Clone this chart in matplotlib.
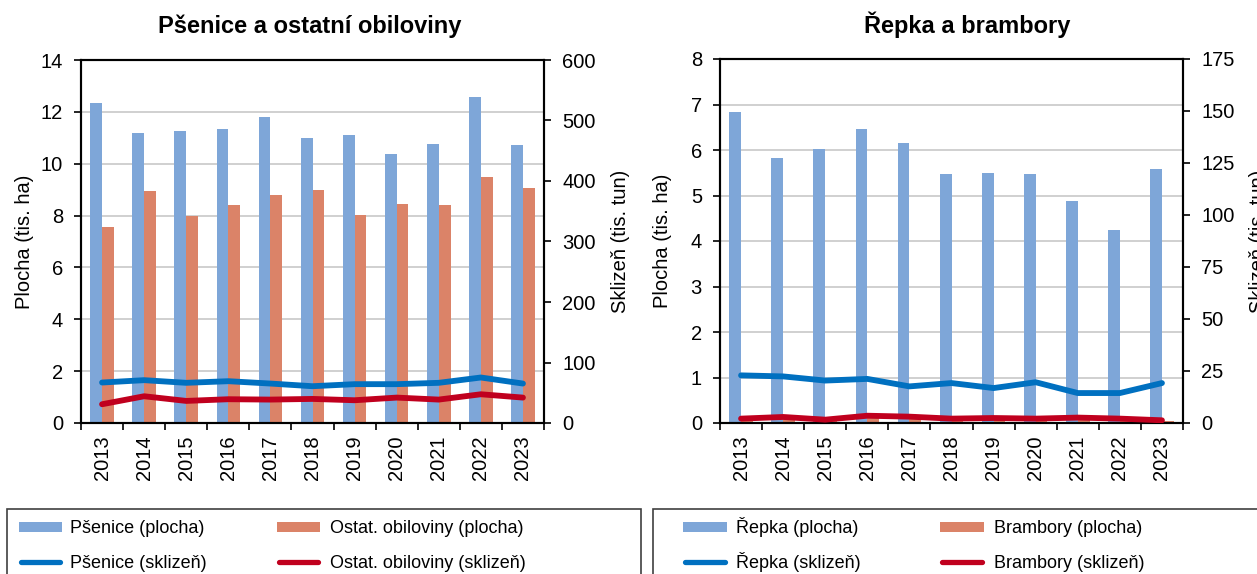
import matplotlib
matplotlib.use("Agg")
import matplotlib.pyplot as plt
import numpy as np
from matplotlib.patches import Rectangle
from matplotlib.lines import Line2D

plt.rcParams['font.family'] = ['Liberation Sans', 'DejaVu Sans']

# ---------------- data ----------------
years = ["2013", "2014", "2015", "2016", "2017", "2018", "2019", "2020", "2021", "2022", "2023"]

psenice_plocha = [12.36, 11.20, 11.28, 11.33, 11.82, 10.99, 11.11, 10.37, 10.76, 12.59, 10.72]
ostat_plocha = [7.55, 8.94, 7.97, 8.41, 8.79, 8.97, 8.04, 8.43, 8.40, 9.48, 9.07]
psenice_sklizen = [66.9, 70.8, 66.4, 69.1, 65.2, 60.8, 64.2, 64.2, 66.4, 75.2, 65.2]
ostat_sklizen = [31.0, 44.2, 36.5, 39.3, 38.7, 39.8, 37.6, 42.0, 38.7, 47.5, 42.0]

repka_plocha = [6.84, 5.82, 6.03, 6.47, 6.15, 5.47, 5.50, 5.48, 4.88, 4.24, 5.59]
brambory_plocha = [0.06, 0.09, 0.05, 0.10, 0.09, 0.06, 0.07, 0.06, 0.08, 0.06, 0.05]
repka_sklizen = [22.9, 22.4, 20.4, 21.2, 17.6, 19.2, 16.8, 19.6, 14.4, 14.4, 19.2]
brambory_sklizen = [2.1, 2.9, 1.6, 3.5, 3.05, 2.1, 2.4, 2.1, 2.6, 2.1, 1.3]

# ---------------- style ----------------
W, H = 1257, 574
C_BAR1 = "#7EA6D8"
C_BAR2 = "#DB8368"
C_LINE1 = "#0070C0"
C_LINE2 = "#C0001E"
GRID = "#C8C8C8"
TICK_FS = 14.5
LABEL_FS = 14.5
TITLE_FS = 17
LEG_FS = 13

fig = plt.figure(figsize=(W / 100, H / 100), dpi=100)


def fx(x):
    return x / W


def fy(y):
    return 1 - y / H


def make_panel(x0, x1, ytop, ybot, title, title_x,
               bars1, bars2, line1, line2, ylim_l, lstep, ylim_r, rstep,
               ylab_l_x, ylab_r_x):
    ax = fig.add_axes([fx(x0), fy(ybot), (x1 - x0) / W, (ybot - ytop) / H])
    x = np.arange(len(years))
    bw = 0.28
    ax.bar(x - bw / 2, bars1, width=bw, color=C_BAR1, zorder=2)
    ax.bar(x + bw / 2, bars2, width=bw, color=C_BAR2, zorder=2)
    ax.set_xlim(-0.5, len(years) - 0.5)
    ax.set_ylim(0, ylim_l)
    ax.set_yticks(np.arange(0, ylim_l + 0.001, lstep))
    ax.yaxis.grid(True, color=GRID, lw=1.2)
    ax.set_axisbelow(True)
    # x ticks at category boundaries, labels at centers
    ax.set_xticks(np.arange(-0.5, len(years), 1.0))
    ax.set_xticklabels([])
    ax.set_xticks(x, minor=True)
    ax.set_xticklabels(years, minor=True, rotation=90, fontsize=TICK_FS)
    ax.tick_params(axis='x', which='major', direction='out', length=5, width=1.2)
    ax.tick_params(axis='x', which='minor', length=0, pad=9)
    ax.tick_params(axis='y', direction='out', length=5, width=1.2, labelsize=TICK_FS, pad=8)
    for s in ax.spines.values():
        s.set_color('black')
        s.set_linewidth(1.5)
    ax.set_ylabel("Plocha (tis. ha)", fontsize=LABEL_FS, va='center')
    ax.yaxis.set_label_coords((ylab_l_x - x0) / (x1 - x0), 0.5)

    ax2 = ax.twinx()
    ax2.plot(x, line1, color=C_LINE1, lw=4.2, solid_capstyle='round', zorder=3)
    ax2.plot(x, line2, color=C_LINE2, lw=4.2, solid_capstyle='round', zorder=3)
    ax2.set_ylim(0, ylim_r)
    ax2.set_yticks(np.arange(0, ylim_r + 0.001, rstep))
    ax2.tick_params(axis='y', direction='out', length=5, width=1.2, labelsize=TICK_FS, pad=8)
    for s in ax2.spines.values():
        s.set_color('black')
        s.set_linewidth(1.5)
    ax2.set_ylabel("Sklizeň (tis. tun)", fontsize=LABEL_FS, rotation=90, va='center')
    ax2.yaxis.set_label_coords((ylab_r_x - x0) / (x1 - x0), 0.5)

    fig.text(fx(title_x), fy(33), title, fontsize=TITLE_FS, fontweight='bold',
             ha='center', va='baseline')
    return ax, ax2


make_panel(81, 544, 60, 423, "Pšenice a ostatní obiloviny", 310,
           psenice_plocha, ostat_plocha, psenice_sklizen, ostat_sklizen,
           14, 2, 600, 100, 25, 620)
make_panel(720, 1183, 59, 423, "Řepka a brambory", 967,
           repka_plocha, brambory_plocha, repka_sklizen, brambory_sklizen,
           8, 1, 175, 25, 662, 1258)


# ---------------- legends ----------------
def legend_box(x0, x1, ytop):
    fig.add_artist(Rectangle((fx(x0), fy(H + 20)), (x1 - x0) / W, (H + 20 - ytop) / H,
                             transform=fig.transFigure, fill=False,
                             edgecolor='#404040', lw=1.2))


def patch_entry(hx0, hx1, y, tx, color, label):
    fig.add_artist(Rectangle((fx(hx0), fy(y + 5)), (hx1 - hx0) / W, 10 / H,
                             transform=fig.transFigure, color=color, lw=0))
    fig.text(fx(tx), fy(y + 6), label, fontsize=LEG_FS, ha='left', va='baseline')


def line_entry(hx0, hx1, y, tx, color, label):
    fig.add_artist(Line2D([fx(hx0 + 2), fx(hx1 - 2)], [fy(y), fy(y)],
                          transform=fig.transFigure, color=color, lw=3.8,
                          solid_capstyle='round'))
    fig.text(fx(tx), fy(y + 6), label, fontsize=LEG_FS, ha='left', va='baseline')


legend_box(7, 641, 509)
patch_entry(19, 62, 527, 70, C_BAR1, "Pšenice (plocha)")
patch_entry(277, 320, 527, 330, C_BAR2, "Ostat. obiloviny (plocha)")
line_entry(19, 62, 562, 70, C_LINE1, "Pšenice (sklizeň)")
line_entry(277, 320, 562, 330, C_LINE2, "Ostat. obiloviny (sklizeň)")

legend_box(653, 1280, 509)
patch_entry(683, 727, 527, 736, C_BAR1, "Řepka (plocha)")
patch_entry(940, 984, 527, 994, C_BAR2, "Brambory (plocha)")
line_entry(683, 727, 562, 736, C_LINE1, "Řepka (sklizeň)")
line_entry(940, 984, 562, 994, C_LINE2, "Brambory (sklizeň)")

fig.savefig("out.png", dpi=100)
